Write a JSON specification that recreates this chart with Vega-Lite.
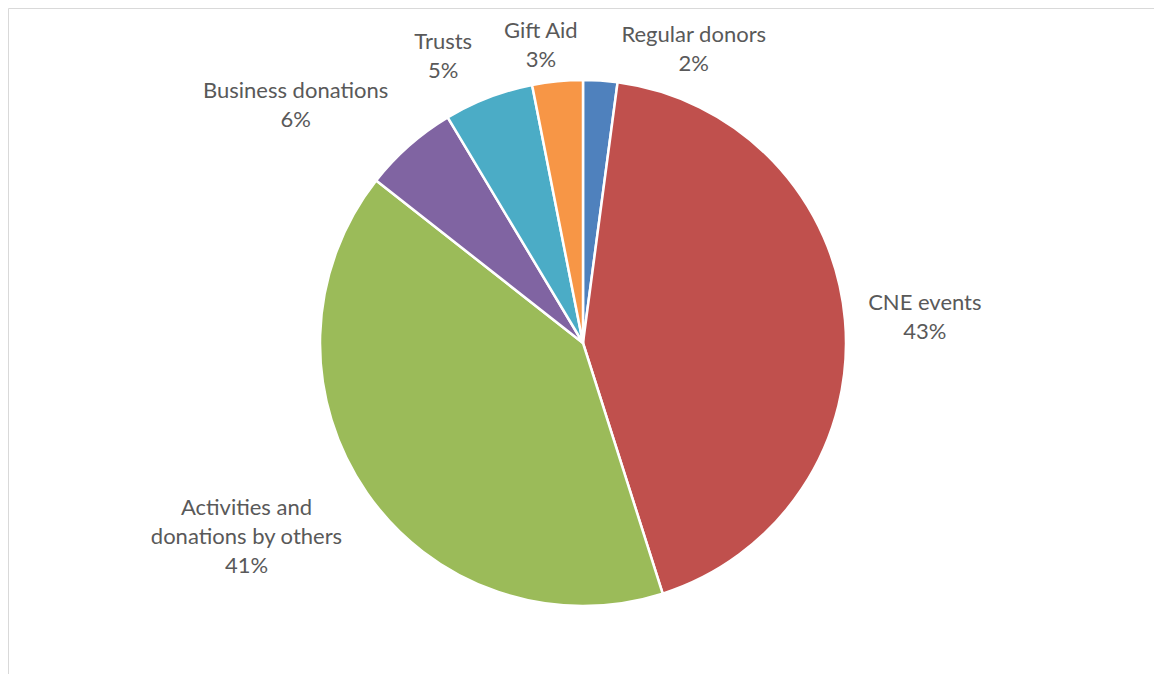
{
  "$schema": "https://vega.github.io/schema/vega-lite/v6.json",
  "width": 1150,
  "height": 670,
  "autosize": {"type": "none"},
  "padding": {"left": 8, "top": 8, "right": -4, "bottom": -4},
  "background": "white",
  "view": {"stroke": "#d9d9d9", "strokeWidth": 1},
  "config": {"view": {"stroke": "#d9d9d9", "strokeWidth": 1}},
  "data": {
    "values": [
      {"order": 1, "category": "Regular donors", "value": 2.1, "label": ["Regular donors", "2%"]},
      {"order": 2, "category": "CNE events", "value": 43.0, "label": ["CNE events", "43%"]},
      {"order": 3, "category": "Activities and donations by others", "value": 40.5, "label": ["Activities and", "donations by others", "41%"]},
      {"order": 4, "category": "Business donations", "value": 5.8, "label": ["Business donations", "6%"]},
      {"order": 5, "category": "Trusts", "value": 5.5, "label": ["Trusts", "5%"]},
      {"order": 6, "category": "Gift Aid", "value": 3.1, "label": ["Gift Aid", "3%"]}
    ]
  },
  "transform": [
    {"stack": "value", "groupby": [], "sort": [{"field": "order", "order": "ascending"}], "as": ["v0", "v1"]},
    {"calculate": "(datum.v0 + datum.v1) / 2", "as": "mid"}
  ],
  "layer": [
    {
      "mark": {"type": "arc", "outerRadius": 263, "stroke": "white", "strokeWidth": 2.5},
      "encoding": {
        "theta": {"field": "v0", "type": "quantitative", "stack": null, "scale": {"domain": [0, 100]}},
        "theta2": {"field": "v1"},
        "color": {
          "field": "category",
          "type": "nominal",
          "legend": null,
          "scale": {
            "domain": ["Regular donors", "CNE events", "Activities and donations by others", "Business donations", "Trusts", "Gift Aid"],
            "range": ["#4F81BD", "#C0504D", "#9BBB59", "#8064A2", "#4BACC6", "#F79646"]
          }
        }
      }
    },
    {
      "transform": [{"filter": "datum.category === 'Regular donors'"}],
      "mark": {"type": "text", "radius": 300, "dx": 91, "dy": -9, "align": "center", "baseline": "middle", "font": "Lato", "fontSize": 22, "lineHeight": 29, "fill": "#595959"},
      "encoding": {"theta": {"field": "mid", "type": "quantitative", "stack": null}, "text": {"field": "label"}}
    },
    {
      "transform": [{"filter": "datum.category === 'CNE events'"}],
      "mark": {"type": "text", "radius": 300, "dx": 43, "dy": -14, "align": "center", "baseline": "middle", "font": "Lato", "fontSize": 22, "lineHeight": 29, "fill": "#595959"},
      "encoding": {"theta": {"field": "mid", "type": "quantitative", "stack": null}, "text": {"field": "label"}}
    },
    {
      "transform": [{"filter": "datum.category === 'Activities and donations by others'"}],
      "mark": {"type": "text", "radius": 300, "dx": -90, "dy": -6, "align": "center", "baseline": "middle", "font": "Lato", "fontSize": 22, "lineHeight": 29, "fill": "#595959"},
      "encoding": {"theta": {"field": "mid", "type": "quantitative", "stack": null}, "text": {"field": "label"}}
    },
    {
      "transform": [{"filter": "datum.category === 'Business donations'"}],
      "mark": {"type": "text", "radius": 300, "dx": -89, "dy": -27, "align": "center", "baseline": "middle", "font": "Lato", "fontSize": 22, "lineHeight": 29, "fill": "#595959"},
      "encoding": {"theta": {"field": "mid", "type": "quantitative", "stack": null}, "text": {"field": "label"}}
    },
    {
      "transform": [{"filter": "datum.category === 'Trusts'"}],
      "mark": {"type": "text", "radius": 300, "dx": -32, "dy": -21, "align": "center", "baseline": "middle", "font": "Lato", "fontSize": 22, "lineHeight": 29, "fill": "#595959"},
      "encoding": {"theta": {"field": "mid", "type": "quantitative", "stack": null}, "text": {"field": "label"}}
    },
    {
      "transform": [{"filter": "datum.category === 'Gift Aid'"}],
      "mark": {"type": "text", "radius": 300, "dx": -13, "dy": -13, "align": "center", "baseline": "middle", "font": "Lato", "fontSize": 22, "lineHeight": 29, "fill": "#595959"},
      "encoding": {"theta": {"field": "mid", "type": "quantitative", "stack": null}, "text": {"field": "label"}}
    }
  ]
}
